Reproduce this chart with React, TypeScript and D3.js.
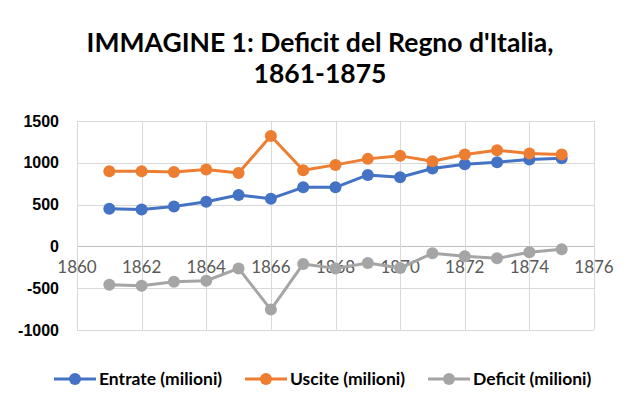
import React, { useEffect, useRef } from 'react';
import * as d3 from 'd3';

const years = [1861, 1862, 1863, 1864, 1865, 1866, 1867, 1868, 1869, 1870, 1871, 1872, 1873, 1874, 1875];
const entrate = [451, 442, 478, 535, 614, 571, 707, 707, 855, 827, 931, 983, 1007, 1040, 1055];
const uscite = [899, 899, 891, 919, 879, 1320, 911, 975, 1047, 1083, 1019, 1100, 1151, 1111, 1100];
const deficit = [-459, -471, -423, -411, -263, -756, -210, -263, -199, -259, -83, -119, -143, -71, -35];
const xTicks = [1860, 1862, 1864, 1866, 1868, 1870, 1872, 1874, 1876];
const yTicks = [-1000, -500, 0, 500, 1000, 1500];
const seriesNames = ['Entrate (milioni)', 'Uscite (milioni)', 'Deficit (milioni)'];
const colors = ['#4472c4', '#ed7d31', '#a5a5a5'];
const titleLines = ["IMMAGINE 1: Deficit del Regno d'Italia,", '1861-1875'];

const W = 640;
const H = 415;

const App: React.FC = () => {
  const svgRef = useRef<SVGSVGElement | null>(null);

  useEffect(() => {
    if (!svgRef.current) return;
    const svg = d3.select(svgRef.current);
    svg.selectAll('*').remove();

    const margin = { top: 121, right: 46, bottom: 85, left: 77 };
    const innerW = W - margin.left - margin.right;
    const innerH = H - margin.top - margin.bottom;

    svg.append('rect')
      .attr('x', 0.5).attr('y', 0.5)
      .attr('width', W - 1).attr('height', H - 1)
      .attr('fill', 'white').attr('stroke', '#d9d9d9');

    svg.append('text')
      .attr('x', W / 2)
      .attr('text-anchor', 'middle')
      .attr('font-family', 'Lato, sans-serif')
      .attr('font-weight', 'bold')
      .attr('font-size', 26.5)
      .attr('fill', '#000')
      .selectAll('tspan')
      .data(titleLines)
      .join('tspan')
      .attr('x', W / 2)
      .attr('y', (_, i) => 52 + i * 31)
      .text((d) => d);

    const x = d3.scaleLinear().domain([1860, 1876]).range([0, innerW]);
    const y = d3.scaleLinear().domain([-1000, 1500]).range([innerH, 0]);

    const g = svg.append('g').attr('transform', `translate(${margin.left},${margin.top})`);

    // grid
    g.append('g')
      .selectAll('line')
      .data(yTicks)
      .join('line')
      .attr('x1', 0).attr('x2', innerW)
      .attr('y1', (d) => Math.round(y(d)) + 0.5).attr('y2', (d) => Math.round(y(d)) + 0.5)
      .attr('stroke', (d) => (d === 0 ? '#bfbfbf' : '#d9d9d9'))
      .attr('stroke-width', 1);
    g.append('g')
      .selectAll('line')
      .data(xTicks)
      .join('line')
      .attr('y1', 0).attr('y2', innerH)
      .attr('x1', (d) => Math.round(x(d)) + 0.5).attr('x2', (d) => Math.round(x(d)) + 0.5)
      .attr('stroke', '#d9d9d9')
      .attr('stroke-width', 1);

    // y labels
    g.append('g')
      .selectAll('text')
      .data(yTicks)
      .join('text')
      .attr('x', -18)
      .attr('y', (d) => y(d))
      .attr('dy', '0.35em')
      .attr('text-anchor', 'end')
      .attr('font-family', '"Liberation Sans", Arial, sans-serif')
      .attr('font-weight', 'bold')
      .attr('font-size', 16)
      .attr('fill', '#000')
      .text((d) => d);

    // x labels at zero line
    g.append('g')
      .selectAll('text')
      .data(xTicks)
      .join('text')
      .attr('x', (d) => x(d))
      .attr('y', y(0) + 27)
      .attr('text-anchor', 'middle')
      .attr('font-family', 'Lato, sans-serif')
      .attr('font-size', 17)
      .attr('fill', '#595959')
      .text((d) => d);

    const allSeries = [entrate, uscite, deficit];
    const line = d3.line<number>()
      .x((_, i) => x(years[i]))
      .y((d) => y(d));

    allSeries.forEach((vals, si) => {
      g.append('path')
        .datum(vals)
        .attr('fill', 'none')
        .attr('stroke', colors[si])
        .attr('stroke-width', 3)
        .attr('stroke-linejoin', 'round')
        .attr('d', line);
      g.append('g')
        .selectAll('circle')
        .data(vals)
        .join('circle')
        .attr('cx', (_, i) => x(years[i]))
        .attr('cy', (d) => y(d))
        .attr('r', 6)
        .attr('fill', colors[si]);
    });

    // legend
    const legendX = [54, 245, 428];
    const ly = 379;
    const lg = svg.append('g');
    seriesNames.forEach((name, i) => {
      const lx = legendX[i];
      lg.append('line')
        .attr('x1', lx).attr('x2', lx + 42)
        .attr('y1', ly).attr('y2', ly)
        .attr('stroke', colors[i]).attr('stroke-width', 3);
      lg.append('circle')
        .attr('cx', lx + 21).attr('cy', ly).attr('r', 6)
        .attr('fill', colors[i]);
      lg.append('text')
        .attr('x', lx + 45)
        .attr('y', ly)
        .attr('dy', '0.35em')
        .attr('font-family', 'Lato, sans-serif')
        .attr('font-weight', 'bold')
        .attr('font-size', 17.5)
        .attr('fill', '#000')
        .text(name);
    });
  }, []);

  return (
    <div style={{ margin: -8 }}>
      <svg ref={svgRef} width={W} height={H} style={{ display: 'block' }} />
    </div>
  );
};

export default App;
